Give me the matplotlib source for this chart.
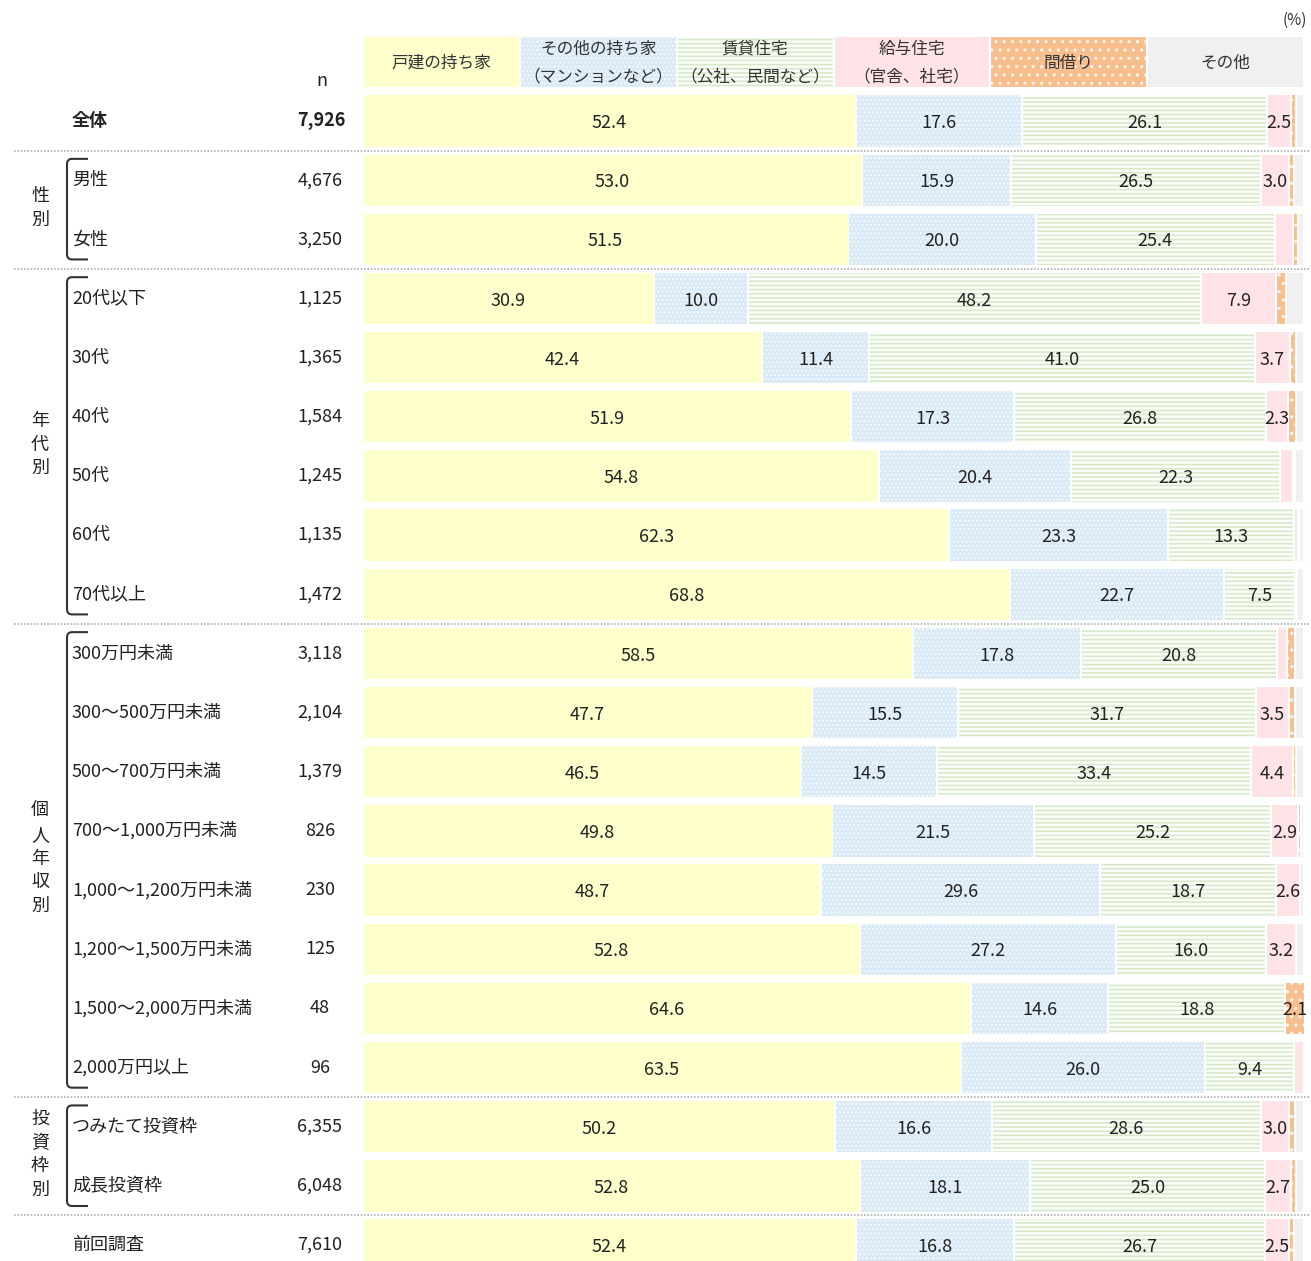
import numpy as np
import matplotlib.pyplot as plt
import matplotlib.transforms as mtransforms
from matplotlib.path import Path
from matplotlib.patches import PathPatch

plt.rcParams['font.family'] = ['Noto Sans CJK JP', 'DejaVu Sans']
plt.rcParams['hatch.linewidth'] = 1.15

# row labels and sample sizes
categories = ['全体', '男性', '女性', '20代以下', '30代', '40代', '50代', '60代', '70代以上',
              '300万円未満', '300～500万円未満', '500～700万円未満', '700～1,000万円未満',
              '1,000～1,200万円未満', '1,200～1,500万円未満', '1,500～2,000万円未満',
              '2,000万円以上', 'つみたて投資枠', '成長投資枠', '前回調査']
n_counts = [7926, 4676, 3250, 1125, 1365, 1584, 1245, 1135, 1472, 3118, 2104, 1379,
            826, 230, 125, 48, 96, 6355, 6048, 7610]

# housing type shares (%)
detached = [52.4, 53.0, 51.5, 30.9, 42.4, 51.9, 54.8, 62.3, 68.8, 58.5, 47.7, 46.5,
            49.8, 48.7, 52.8, 64.6, 63.5, 50.2, 52.8, 52.4]
other_owned = [17.6, 15.9, 20.0, 10.0, 11.4, 17.3, 20.4, 23.3, 22.7, 17.8, 15.5, 14.5,
               21.5, 29.6, 27.2, 14.6, 26.0, 16.6, 18.1, 16.8]
rental = [26.1, 26.5, 25.4, 48.2, 41.0, 26.8, 22.3, 13.3, 7.5, 20.8, 31.7, 33.4,
          25.2, 18.7, 16.0, 18.8, 9.4, 28.6, 25.0, 26.7]
company = [2.5, 3.0, 1.9, 7.9, 3.7, 2.3, 1.3, 0.5, 0.3, 1.1, 3.5, 4.4,
           2.9, 2.6, 3.2, 0.0, 1.1, 3.0, 2.7, 2.5]
room_rent = [0.6, 0.5, 0.6, 1.1, 0.7, 0.8, 0.2, 0.1, 0.0, 0.8, 0.6, 0.4,
             0.3, 0.0, 0.0, 2.1, 0.0, 0.6, 0.6, 0.5]
other = [0.8, 1.1, 0.6, 1.9, 0.8, 0.9, 1.0, 0.5, 0.7, 1.0, 1.0, 0.8,
         0.3, 0.4, 0.8, 0.0, 0.0, 1.0, 0.8, 1.1]

series_names = ['戸建の持ち家', 'その他の持ち家\n（マンションなど）', '賃貸住宅\n（公社、民間など）',
                '給与住宅\n（官舎、社宅）', '間借り', 'その他']

groups = [('性別', 1, 2), ('年代別', 3, 8), ('個人年収別', 9, 16), ('投資枠別', 17, 18)]
separators = [0.5, 2.5, 8.5, 16.5, 18.5]

# fill style for each series: face, hatch colour, hatch
styles = [
    dict(fc='#FFFFCC', hc='#FFFFCC', hatch=None),
    dict(fc='#D9E9F6', hc='#F4F9FD', hatch='....'),
    dict(fc='#FBFDF9', hc='#D6E9C8', hatch='----'),
    dict(fc='#FFE3E6', hc='#FFE3E6', hatch=None),
    dict(fc='#F8BE8E', hc='#FFF3EA', hatch='..'),
    dict(fc='#F0F0F0', hc='#F0F0F0', hatch=None),
]

W, H = 1311, 1261
pitch = 59.16
fig = plt.figure(figsize=(W / 100, H / 100), dpi=100)
ax = fig.add_axes([363 / W, 0, 941 / W, 1])
ax.set_xlim(0, 100)
ax.set_ylim((H - 121) / pitch, -121 / pitch)
ax.axis('off')

# x in figure pixels, y in row units
left_tf = mtransforms.blended_transform_factory(
    mtransforms.Affine2D().scale(1 / W, 1) + fig.transFigure, ax.transData)

data = [detached, other_owned, rental, company, room_rent, other]
y = np.arange(len(categories))
left = np.zeros(len(categories))
txt_color = '#222222'

for vals, st in zip(data, styles):
    vals = np.array(vals)
    ax.barh(y, vals, left=left, height=0.9, color=st['fc'], edgecolor=st['hc'],
            hatch=st['hatch'], linewidth=0)
    ax.barh(y, vals, left=left, height=0.9, fill=False, edgecolor='white', linewidth=1.5)
    for yi, (l, v) in enumerate(zip(left, vals)):
        if v >= 2.0:
            ax.text(l + v / 2, yi + 0.035, f'{v:.1f}', ha='center', va='center',
                    fontsize=13, color=txt_color)
    left += vals

# header legend cells
cell_w = 100 / len(series_names)
for i, (name, st) in enumerate(zip(series_names, styles)):
    ax.bar(i * cell_w, 0.88, width=cell_w, bottom=-1.44, align='edge',
           color=st['fc'], edgecolor=st['hc'], hatch=st['hatch'], linewidth=0)
    ax.bar(i * cell_w, 0.88, width=cell_w, bottom=-1.44, align='edge',
           fill=False, edgecolor='white', linewidth=1.5)
    ax.text((i + 0.5) * cell_w, -0.98, name, ha='center', va='center',
            fontsize=12, color='#333333', linespacing=1.8)

ax.text(1307, -1.7, '(%)', transform=left_tf, ha='right', va='center',
        fontsize=11, color='#333333')
ax.text(322, -0.68, 'n', transform=left_tf, ha='center', va='center',
        fontsize=13, color=txt_color)

# row labels and n
for i, (cat, n) in enumerate(zip(categories, n_counts)):
    weight = 'bold' if i == 0 else 'normal'
    ax.text(72, i, cat, transform=left_tf, ha='left', va='center',
            fontsize=13, color=txt_color, fontweight=weight)
    if i == 0:
        ax.text(345, i, f'{n:,}', transform=left_tf, ha='right', va='center',
                fontsize=13, color=txt_color, fontweight='bold')
    else:
        ax.text(320, i, f'{n:,}', transform=left_tf, ha='center', va='center',
                fontsize=13, color=txt_color)

# group labels and brackets
for name, first, last in groups:
    mid = (first + last) / 2
    k = len(name)
    for j, ch in enumerate(name):
        ax.text(40, mid + (j - (k - 1) / 2) * 0.4 - 0.03, ch, transform=left_tf,
                ha='center', va='center', fontsize=13, color=txt_color)
    top, bot = first - 0.36, last + 0.34
    r = 0.09
    verts = [(88, top), (72, top), (67, top), (67, top + r), (67, bot - r),
             (67, bot), (72, bot), (88, bot)]
    codes = [Path.MOVETO, Path.LINETO, Path.CURVE3, Path.CURVE3, Path.LINETO,
             Path.CURVE3, Path.CURVE3, Path.LINETO]
    ax.add_patch(PathPatch(Path(verts, codes), transform=left_tf, fill=False,
                           edgecolor='#333333', linewidth=1.5, clip_on=False))

# dotted separators between groups
for s in separators:
    ax.plot([14, W], [s, s], transform=left_tf, color='#B0B0B0', linewidth=1.2,
            linestyle=(0, (1, 1)), clip_on=False)

fig.savefig('out.png', dpi=100)
